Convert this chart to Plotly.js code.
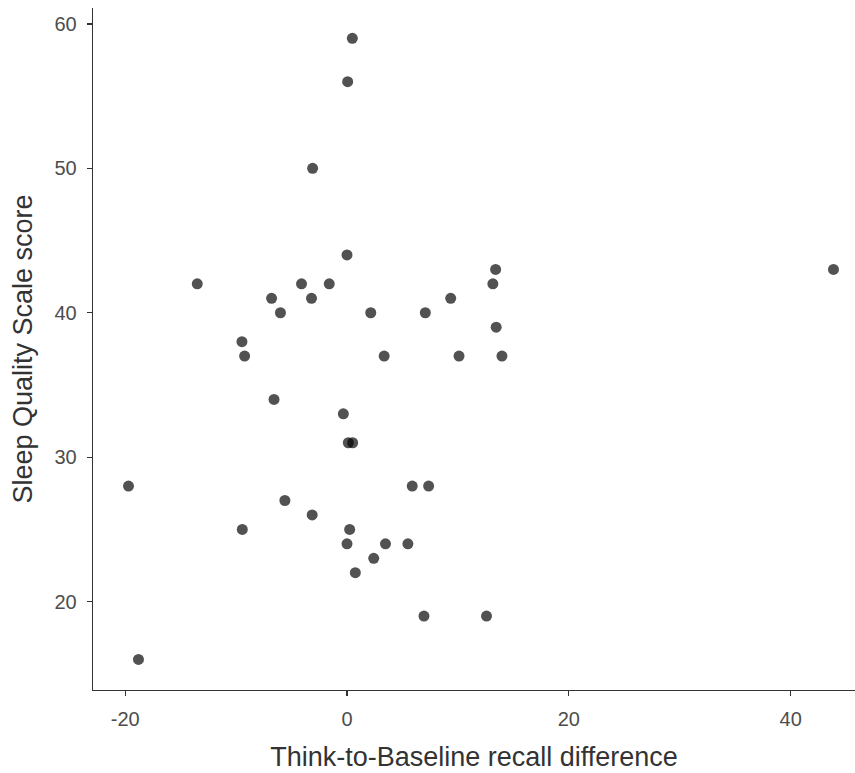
<!DOCTYPE html>
<html>
<head>
<meta charset="utf-8">
<script src="https://cdn.plot.ly/plotly-3.0.1.min.js"></script>
<style>html,body{margin:0;padding:0;background:#fff;}</style>
</head>
<body>
<div id="chart" style="width:855px;height:773px;"></div>
<script>
const recallDiff = [0.48, 0.06, -3.1, 0.0, 13.4, 43.86, -13.5, -4.1, -1.6, 13.15, -6.8, -3.2, 9.35,
  -6.0, 2.14, 7.06, 13.45, -9.47, -9.23, 3.35, 10.1, 13.97, -6.58, -0.33, 0.12, 0.51,
  -19.7, 5.88, 7.36, -5.6, -3.14, -9.44, 0.24, 0.0, 3.47, 5.49, 2.41, 0.75, 6.94, 12.58, -18.8];
const sleepScore = [59, 56, 50, 44, 43, 43, 42, 42, 42, 42, 41, 41, 41,
  40, 40, 40, 39, 38, 37, 37, 37, 37, 34, 33, 31, 31,
  28, 28, 28, 27, 26, 25, 25, 24, 24, 24, 23, 22, 19, 19, 16];
const xTicks = [-20, 0, 20, 40];
const yTicks = [20, 30, 40, 50, 60];

const trace = {
  x: recallDiff, y: sleepScore, type: 'scatter', mode: 'markers',
  marker: {size: 11, color: 'rgba(0,0,0,0.68)', line: {width: 0}},
  hoverinfo: 'x+y'
};
const fam = 'Liberation Sans, Arial, sans-serif';
const axisCommon = {
  showgrid: false, zeroline: false, showline: true, linecolor: '#333333', linewidth: 1.3,
  ticks: 'outside', ticklen: 5, tickwidth: 1.3, tickcolor: '#333333',
  tickfont: {family: fam, size: 20, color: '#4d4d4d'},
  mirror: false
};
const layout = {
  width: 855, height: 773,
  margin: {l: 93, r: 0, t: 8, b: 83},
  paper_bgcolor: '#ffffff', plot_bgcolor: '#ffffff',
  showlegend: false,
  xaxis: Object.assign({}, axisCommon, {
    range: [-22.9, 45.8], tickvals: xTicks, ticktext: xTicks.map(String),
    ticklabelstandoff: 6,
    title: {text: 'Think-to-Baseline recall difference', standoff: 17,
      font: {family: fam, size: 27, color: '#333333'}}
  }),
  yaxis: Object.assign({}, axisCommon, {
    range: [13.88, 61.1], tickvals: yTicks, ticktext: yTicks.map(String),
    ticklabelstandoff: 6,
    title: {text: 'Sleep Quality Scale score', standoff: 14,
      font: {family: fam, size: 27, color: '#333333'}}
  })
};
Plotly.newPlot('chart', [trace], layout, {displayModeBar: false, staticPlot: true});
</script>
</body>
</html>
